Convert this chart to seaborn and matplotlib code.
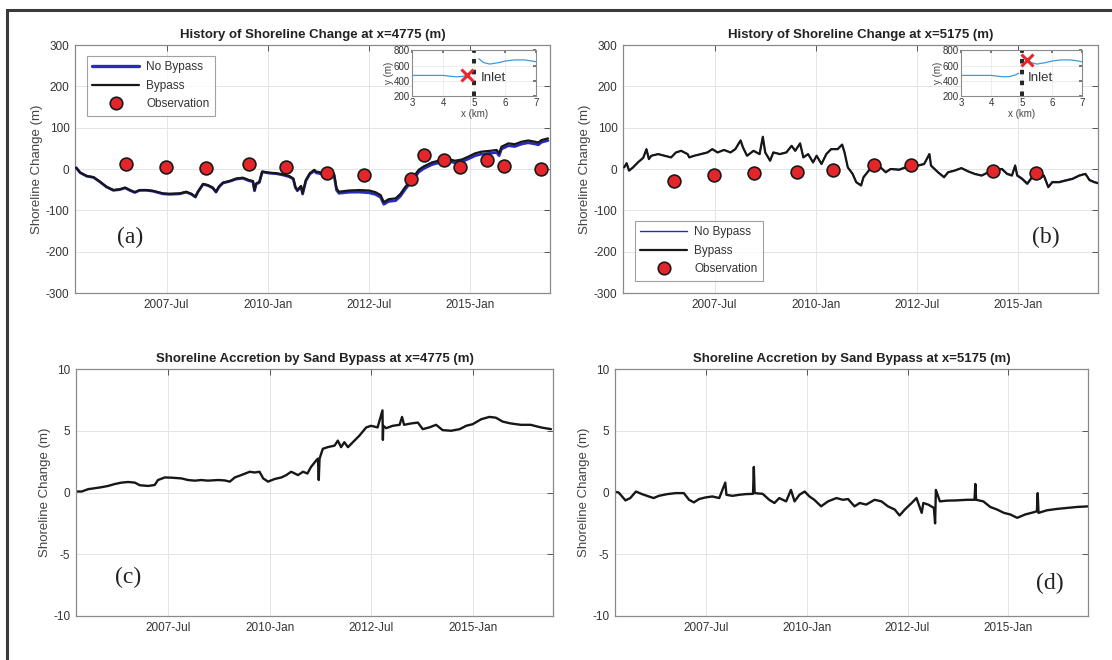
import numpy as np
import pandas as pd
import matplotlib
matplotlib.use("Agg")
import matplotlib.pyplot as plt
import matplotlib.dates as mdates
from matplotlib.lines import Line2D
from matplotlib.patches import Rectangle
import seaborn as sns

# ---------------- data (decimal years, metres) ----------------
# x = 4775 m : modelled shoreline change with / without the sand bypass
a_years = [2005.26, 2005.36, 2005.52, 2005.69, 2005.85, 2006.01, 2006.18, 2006.34, 2006.47, 2006.59,
           2006.71, 2006.83, 2007.00, 2007.16, 2007.41, 2007.57, 2007.82, 2007.98, 2008.11, 2008.21,
           2008.27, 2008.40, 2008.52, 2008.64, 2008.72, 2008.79, 2008.89, 2009.05, 2009.22, 2009.38,
           2009.54, 2009.63, 2009.67, 2009.71, 2009.79, 2009.86, 2010.04, 2010.20, 2010.37, 2010.53,
           2010.63, 2010.68, 2010.73, 2010.82, 2010.86, 2010.94, 2011.04, 2011.15, 2011.19, 2011.35,
           2011.51, 2011.64, 2011.70, 2011.76, 2012.01, 2012.25, 2012.50, 2012.66, 2012.79, 2012.87,
           2012.99, 2013.16, 2013.28, 2013.40, 2013.57, 2013.73, 2013.85, 2014.06, 2014.22, 2014.47,
           2014.63, 2014.80, 2014.96, 2015.13, 2015.29, 2015.50, 2015.66, 2015.72, 2015.78, 2015.95,
           2016.11, 2016.28, 2016.44, 2016.61, 2016.69, 2016.77, 2016.93]
a_bypass = [3, -9, -17, -20, -31, -43, -51, -49, -45, -51,
            -56, -51, -51, -53, -59, -60, -59, -55, -60, -67,
            -55, -36, -39, -45, -55, -43, -33, -29, -23, -21,
            -27, -29, -51, -35, -31, -6, -9, -10, -13, -17,
            -23, -43, -51, -41, -59, -27, -10, -2, -6, -9,
            -10, -12, -47, -55, -52, -51, -52, -56, -63, -80,
            -73, -71, -60, -43, -23, -2, 6, 16, 20, 24,
            20, 23, 30, 38, 42, 44, 46, 38, 54, 62,
            60, 66, 69, 66, 64, 70, 74]
a_nobypass = [3, -9, -17.3, -20.3, -31.4, -43.5, -51.6, -49.8, -45.8, -51.8,
              -56.8, -51.6, -51.5, -53.6, -60.2, -61.2, -60.1, -56, -61, -68,
              -56, -37, -40, -46, -56, -44, -34, -30, -24.3, -22.5,
              -28.7, -30.6, -52.7, -36.7, -32.5, -7.2, -10, -11.2, -14.4, -18.6,
              -24.5, -44.5, -52.6, -42.6, -60.6, -28.8, -12.2, -4.6, -9, -12.6,
              -13.8, -16, -51, -58.7, -56.2, -55.8, -57.4, -61.3, -68.5, -85.3,
              -78.4, -76.5, -65.6, -48.6, -28.6, -7.6, 0.8, 10.6, 15, 19,
              14.9, 17.6, 24.5, 32.2, 36.1, 37.9, 40.1, 32.2, 48.3, 56.4,
              54.5, 60.5, 63.5, 60.6, 58.6, 64.8, 68.9]

# x = 5175 m
b_years = [2005.26, 2005.32, 2005.38, 2005.48, 2005.60, 2005.73, 2005.81, 2005.87, 2005.93, 2006.10,
           2006.26, 2006.42, 2006.54, 2006.67, 2006.83, 2006.87, 2006.99, 2007.16, 2007.32, 2007.44,
           2007.57, 2007.73, 2007.89, 2008.01, 2008.14, 2008.20, 2008.30, 2008.46, 2008.61, 2008.69,
           2008.75, 2008.87, 2008.95, 2009.11, 2009.27, 2009.40, 2009.49, 2009.61, 2009.69, 2009.81,
           2009.93, 2010.02, 2010.14, 2010.26, 2010.38, 2010.54, 2010.65, 2010.71, 2010.79, 2010.91,
           2011.00, 2011.12, 2011.18, 2011.31, 2011.43, 2011.60, 2011.73, 2011.85, 2012.06, 2012.23,
           2012.35, 2012.52, 2012.68, 2012.81, 2012.85, 2013.02, 2013.17, 2013.27, 2013.43, 2013.60,
           2013.77, 2013.93, 2014.10, 2014.27, 2014.43, 2014.60, 2014.73, 2014.85, 2014.93, 2014.98,
           2015.10, 2015.23, 2015.35, 2015.52, 2015.64, 2015.75, 2015.85, 2016.02, 2016.18, 2016.35,
           2016.52, 2016.67, 2016.77, 2016.89, 2017.00]
b_bypass = [4, 14, -4, 4, 16, 27, 48, 24, 32, 36,
            32, 28, 40, 44, 36, 28, 32, 36, 40, 48,
            40, 46, 40, 48, 69, 52, 32, 44, 36, 78,
            40, 20, 40, 36, 40, 56, 44, 62, 28, 36,
            16, 32, 12, 36, 48, 48, 59, 40, 4, -12,
            -32, -40, -20, -4, 10, 4, -8, 0, -2, 4,
            10, 8, 12, 36, 8, -8, -20, -8, -4, 2,
            -6, -12, -16, -8, -4, 0, -12, -16, 8, -16,
            -24, -36, -20, -24, -16, -44, -32, -32, -28, -24,
            -16, -12, -27, -32, -35]
b_nobypass = [4, 14, -3.9, 4.5, 16.5, 27.2, 48, 24.1, 32.2, 36.3,
              32.4, 28.2, 40.1, 44.1, 36.1, 28.1, 32.1, 36.7, 40.5, 48.4,
              40.3, 46.4, 40.3, 48.2, 69.3, 52.2, 32.2, 44.1, 36.1, 76,
              40.1, 20.2, 40.4, 36.6, 40.7, 56.5, 44.7, 62, 28.7, 36.2,
              16, 32.2, 12.5, 36.9, 48.9, 48.7, 59.5, 40.5, 4.6, -11.4,
              -31.5, -39, -19.1, -3.1, 11, 4.7, -7.3, 0.7, -0.9, 5.4,
              11.7, 9.1, 12.6, 36.5, 9.2, -7, -18.9, -7.3, -3.3, 2.6,
              -5.4, -11.4, -15.3, -7, -3.2, 1.2, -10.6, -14.4, 9.7, -14.2,
              -22, -34, -18.1, -22.3, -14.4, -42.5, -30.5, -30.6, -26.6, -22.7,
              -14.8, -10.8, -25.8, -30.9, -33.9]

# surveyed shoreline positions
obs_years_a = [2006.49, 2007.49, 2008.48, 2009.54, 2010.46, 2011.47, 2012.38,
               2013.53, 2013.85, 2014.35, 2014.76, 2015.41, 2015.84, 2016.75]
obs_a = [12, 6, 2, 12, 6, -10, -15, -23, 34, 22, 6, 22, 7, -1]
obs_years_b = [2006.50, 2007.47, 2008.46, 2009.53, 2010.42, 2011.45, 2012.35, 2014.37, 2015.45]
obs_b = [-28, -15, -10, -8, -2, 10, 10, -4, -10]

# accretion due to the bypass (Bypass minus No Bypass)
c_years = [2005.22, 2005.37, 2005.53, 2005.70, 2005.86, 2006.02, 2006.19, 2006.35, 2006.52, 2006.68,
           2006.80, 2007.01, 2007.17, 2007.25, 2007.42, 2007.58, 2007.83, 2007.99, 2008.16, 2008.32,
           2008.48, 2008.73, 2008.89, 2009.02, 2009.14, 2009.30, 2009.51, 2009.63, 2009.75, 2009.84,
           2009.96, 2010.12, 2010.29, 2010.41, 2010.53, 2010.70, 2010.82, 2010.93, 2011.02, 2011.15,
           2011.19, 2011.21, 2011.23, 2011.31, 2011.43, 2011.60, 2011.68, 2011.76, 2011.84, 2011.93,
           2012.05, 2012.21, 2012.38, 2012.50, 2012.66, 2012.78, 2012.79, 2012.80, 2012.87, 2013.03,
           2013.20, 2013.26, 2013.31, 2013.48, 2013.65, 2013.77, 2013.93, 2014.10, 2014.26, 2014.47,
           2014.68, 2014.84, 2015.00, 2015.21, 2015.41, 2015.57, 2015.74, 2015.94, 2016.19, 2016.43,
           2016.68, 2016.93]
c_accretion = [0.08, 0.08, 0.27, 0.35, 0.43, 0.53, 0.69, 0.80, 0.85, 0.80,
               0.59, 0.53, 0.61, 1.01, 1.22, 1.20, 1.14, 1.01, 0.96, 1.01,
               0.96, 1.01, 0.98, 0.88, 1.22, 1.41, 1.68, 1.62, 1.68, 1.14,
               0.88, 1.09, 1.22, 1.41, 1.68, 1.41, 1.68, 1.54, 2.07, 2.61,
               2.74, 1.01, 2.74, 3.54, 3.67, 3.80, 4.20, 3.67, 4.07, 3.67,
               4.07, 4.60, 5.27, 5.40, 5.27, 6.65, 4.26, 5.40, 5.21, 5.40,
               5.48, 6.12, 5.48, 5.59, 5.66, 5.13, 5.27, 5.48, 5.05, 5.00,
               5.13, 5.40, 5.53, 5.93, 6.12, 6.06, 5.74, 5.59, 5.48, 5.48,
               5.27, 5.13]

d_years = [2005.20, 2005.32, 2005.49, 2005.61, 2005.75, 2005.90, 2006.07, 2006.19, 2006.32, 2006.53,
           2006.74, 2006.94, 2007.07, 2007.19, 2007.32, 2007.48, 2007.65, 2007.82, 2007.97, 2008.00,
           2008.15, 2008.31, 2008.48, 2008.66, 2008.68, 2008.70, 2008.90, 2009.06, 2009.19, 2009.31,
           2009.48, 2009.60, 2009.69, 2009.81, 2009.94, 2010.06, 2010.18, 2010.35, 2010.52, 2010.73,
           2010.89, 2011.02, 2011.18, 2011.31, 2011.47, 2011.68, 2011.85, 2012.01, 2012.18, 2012.30,
           2012.43, 2012.60, 2012.72, 2012.85, 2012.89, 2013.01, 2013.15, 2013.18, 2013.20, 2013.30,
           2013.47, 2013.72, 2013.97, 2014.16, 2014.18, 2014.20, 2014.38, 2014.55, 2014.72, 2014.89,
           2015.05, 2015.22, 2015.42, 2015.63, 2015.71, 2015.73, 2015.75, 2015.96, 2016.21, 2016.46,
           2016.71, 2017.00]
d_accretion = [0.08, 0.00, -0.64, -0.45, 0.08, -0.13, -0.32, -0.45, -0.27, -0.13,
               -0.05, -0.05, -0.59, -0.80, -0.53, -0.40, -0.32, -0.45, 0.80, -0.19,
               -0.27, -0.19, -0.13, -0.11, 2.07, -0.05, -0.11, -0.59, -0.85, -0.45,
               -0.72, 0.21, -0.72, -0.19, 0.08, -0.32, -0.59, -1.12, -0.72, -0.45,
               -0.59, -0.53, -1.12, -0.85, -0.98, -0.59, -0.72, -1.12, -1.38, -1.86,
               -1.38, -0.85, -0.45, -1.65, -0.85, -0.98, -1.25, -2.50, 0.21, -0.72,
               -0.66, -0.64, -0.59, -0.59, 0.69, -0.59, -0.72, -1.17, -1.38, -1.65,
               -1.78, -2.05, -1.78, -1.60, -1.52, -0.05, -1.65, -1.44, -1.33, -1.25,
               -1.17, -1.12]

# plan-view shoreline for the location map (km, m)
map_west_x = [3.0, 3.5, 4.0, 4.2, 4.4, 4.6, 4.8, 4.9]
map_west_y = [470, 470, 470, 460, 452, 455, 478, 500]
map_east_x = [5.15, 5.3, 5.5, 5.8, 6.0, 6.3, 6.6, 6.8, 7.0]
map_east_y = [690, 640, 620, 640, 660, 675, 675, 665, 650]
jetty_x = [4.97, 5.04]

date_ticks = ["2007-07-01", "2010-01-01", "2012-07-01", "2015-01-01"]


def to_dates(years):
    out = []
    for y in years:
        yr = int(np.floor(y))
        out.append(pd.Timestamp(yr, 1, 1) + pd.Timedelta(days=(y - yr) * 365.25))
    return pd.to_datetime(out)


# ---------------- style ----------------
sns.set_theme(style="whitegrid")
plt.rcParams.update({
    "font.family": ["Liberation Sans", "DejaVu Sans"],
    "axes.unicode_minus": False,
    "axes.edgecolor": "#8a8a8a",
    "axes.linewidth": 0.9,
    "grid.color": "#e4e4e4",
    "grid.linewidth": 0.7,
    "xtick.direction": "in",
    "ytick.direction": "in",
    "xtick.major.size": 4,
    "ytick.major.size": 4,
    "xtick.color": "#333333",
    "ytick.color": "#333333",
    "axes.labelcolor": "#444444",
})

W, H = 1112, 660
fig = plt.figure(figsize=(W / 100, H / 100), dpi=100)


def px_axes(left, top, right, bottom):
    return fig.add_axes([left / W, 1 - bottom / H, (right - left) / W, (bottom - top) / H])


ax_a = px_axes(75, 45, 550, 293)
ax_b = px_axes(623, 45, 1098, 293)
ax_c = px_axes(76, 369, 553, 616)
ax_d = px_axes(615, 369, 1088, 616)

xmin, xmax = to_dates([2005.23])[0], to_dates([2016.98])[0]
tick_dates = pd.to_datetime(date_ticks)

blue = "#2a2ab8"
red = "#e4262b"
ink = "#171717"


def style_axis(ax, ylim, yticks, title):
    ax.set_xlim(xmin, xmax)
    ax.set_ylim(*ylim)
    ax.set_yticks(yticks)
    ax.set_xticks(tick_dates)
    ax.xaxis.set_major_formatter(mdates.DateFormatter("%Y-%b"))
    ax.tick_params(axis="both", labelsize=8.5, top=True, right=True, length=4, width=0.7,
                   color="#555555", pad=4)
    ax.set_xlabel("")
    ax.set_ylabel("Shoreline Change (m)", fontsize=9.5, labelpad=2)
    ax.set_title(title, fontsize=9.5, fontweight="bold", color="#222222", pad=5)
    for s in ax.spines.values():
        s.set_color("#8a8a8a")
    ax.grid(True)


def shoreline_panel(ax, years, nobyp, byp, oyears, obs, nb_lw, title):
    df = pd.DataFrame({"date": to_dates(years), "nob": nobyp, "byp": byp})
    sns.lineplot(data=df, x="date", y="nob", ax=ax, color=blue, lw=nb_lw,
                 estimator=None, sort=False, zorder=3)
    sns.lineplot(data=df, x="date", y="byp", ax=ax, color=ink, lw=1.6,
                 estimator=None, sort=False, zorder=4)
    dfo = pd.DataFrame({"date": to_dates(oyears), "obs": obs})
    sns.scatterplot(data=dfo, x="date", y="obs", ax=ax, color=red, edgecolor="#1a1a1a",
                    linewidth=1.2, s=85, zorder=5)
    style_axis(ax, (-300, 300), [-300, -200, -100, 0, 100, 200, 300], title)


shoreline_panel(ax_a, a_years, a_nobypass, a_bypass, obs_years_a, obs_a, 2.0,
                "History of Shoreline Change at x=4775 (m)")
shoreline_panel(ax_b, b_years, b_nobypass, b_bypass, obs_years_b, obs_b, 1.0,
                "History of Shoreline Change at x=5175 (m)")

for ax, years, vals, title in [
        (ax_c, c_years, c_accretion, "Shoreline Accretion by Sand Bypass at x=4775 (m)"),
        (ax_d, d_years, d_accretion, "Shoreline Accretion by Sand Bypass at x=5175 (m)")]:
    df = pd.DataFrame({"date": to_dates(years), "acc": vals})
    sns.lineplot(data=df, x="date", y="acc", ax=ax, color=ink, lw=1.7,
                 estimator=None, sort=False)
    style_axis(ax, (-10, 10), [-10, -5, 0, 5, 10], title)


# legends
def add_legend(ax, nb_lw, loc, anchor):
    handles = [Line2D([], [], color=blue, lw=nb_lw),
               Line2D([], [], color=ink, lw=1.6),
               Line2D([], [], ls="none", marker="o", ms=9, mfc=red, mec="#1a1a1a", mew=1.2)]
    leg = ax.legend(handles, ["No Bypass", "Bypass", "Observation"], loc=loc,
                    bbox_to_anchor=anchor, fontsize=8.5, frameon=True, fancybox=False,
                    handlelength=4.0, handletextpad=0.6, borderpad=0.45, labelspacing=0.55,
                    borderaxespad=0)
    leg.get_frame().set_edgecolor("#8a8a8a")
    leg.get_frame().set_linewidth(0.8)
    for t in leg.get_texts():
        t.set_color("#333333")


add_legend(ax_a, 2.4, "upper left", (0.025, 0.955))
add_legend(ax_b, 1.0, "lower left", (0.025, 0.05))


# location maps
def location_map(ax, rect, cross_x, cross_y):
    ins = ax.inset_axes(rect)
    ins.set_facecolor("white")
    ins.plot(map_west_x, map_west_y, color="#3a9be0", lw=0.9)
    ins.plot(map_east_x, map_east_y, color="#3a9be0", lw=0.9)
    for jx in jetty_x:
        ins.plot([jx, jx], [200, 800], color="#111111", lw=1.3, ls=(0, (2.5, 3.5)))
    ins.plot([cross_x], [cross_y], marker="x", color="#e8282b", ms=9, mew=2.2)
    ins.text(5.2, 430, "Inlet", fontsize=9.5, color="#333333", va="center")
    ins.set_xlim(3, 7)
    ins.set_ylim(200, 800)
    ins.set_xticks([3, 4, 5, 6, 7])
    ins.set_yticks([200, 400, 600, 800])
    ins.tick_params(labelsize=7, length=2, pad=1.5, top=True, right=True, color="#666666")
    ins.set_xlabel("x (km)", fontsize=7, labelpad=1, color="#444444")
    ins.set_ylabel("y (m)", fontsize=7, labelpad=0, color="#444444")
    ins.grid(True, color="#e6e6e6", lw=0.5)
    for s in ins.spines.values():
        s.set_color("#8a8a8a")
        s.set_linewidth(0.8)
    return ins


location_map(ax_a, [0.71, 0.795, 0.261, 0.183], 4.775, 470)
location_map(ax_b, [0.712, 0.795, 0.255, 0.183], 5.175, 680)

# panel letters
serif = ["Liberation Serif", "DejaVu Serif"]
ax_a.text(0.115, 0.225, "(a)", transform=ax_a.transAxes, fontsize=17, family=serif,
          color="#222222", ha="center", va="center")
ax_b.text(0.89, 0.225, "(b)", transform=ax_b.transAxes, fontsize=17, family=serif,
          color="#222222", ha="center", va="center")
ax_c.text(0.11, 0.155, "(c)", transform=ax_c.transAxes, fontsize=17, family=serif,
          color="#222222", ha="center", va="center")
ax_d.text(0.92, 0.13, "(d)", transform=ax_d.transAxes, fontsize=17, family=serif,
          color="#222222", ha="center", va="center")

# outer frame of the figure
fig.add_artist(Rectangle((7 / W, -0.05), 1.2, 1 - 10 / H + 0.05, transform=fig.transFigure,
                         fill=False, lw=2.2, ec="#3a3a3a"))

fig.savefig("out.png", dpi=100)
